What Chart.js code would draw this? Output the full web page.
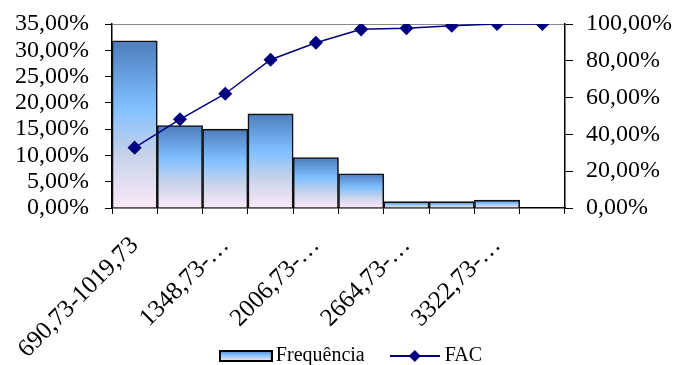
<!DOCTYPE html>
<html>
<head>
<meta charset="utf-8">
<script src="https://cdn.jsdelivr.net/npm/chart.js@4.4.1/dist/chart.umd.min.js"></script>
<style>
  html, body { margin: 0; padding: 0; background: #fff; }
  #wrap { width: 678px; height: 365px; }
</style>
</head>
<body>
<div id="wrap"><canvas id="grafico" width="678" height="365"></canvas></div>
<script>
// classes de valores e frequencias
const categorias = ['690,73-1019,73', '1019,73-1348,73', '1348,73-1677,73', '1677,73-2006,73', '2006,73-2335,73',
  '2335,73-2664,73', '2664,73-2993,73', '2993,73-3322,73', '3322,73-3651,73', '3651,73-3980,73'];
const rotulosX = ['690,73-1019,73', '', '1348,73-…', '', '2006,73-…', '', '2664,73-…', '', '3322,73-…', ''];
const frequencia = [31.8, 15.7, 15.0, 17.9, 9.6, 6.5, 1.2, 1.2, 1.5, 0];
const fac = [32.8, 48.2, 62.1, 80.6, 89.8, 97.1, 97.7, 99.1, 100, 100];

const fonte = "'Liberation Serif', 'Times New Roman', serif";

function pct(v) {
  return Number(v).toFixed(2).replace('.', ',') + '%';
}

// degrade das barras: azul escuro no topo, azul claro, rosado na base
function degrade(c, topo, base) {
  const g = c.createLinearGradient(0, topo, 0, base);
  g.addColorStop(0, '#4d7dbd');
  g.addColorStop(0.4, '#80c0ff');
  g.addColorStop(0.68, '#c6d2ea');
  g.addColorStop(1, '#fbeaf8');
  return g;
}

function corBarra(context) {
  const chart = context.chart;
  if (!chart.chartArea || context.type !== 'data') return '#80c0ff';
  const y = chart.scales.y;
  return degrade(chart.ctx, y.getPixelForValue(context.raw), y.getPixelForValue(0));
}

// simbolos da legenda
const iconeBarra = document.createElement('canvas');
iconeBarra.width = 54; iconeBarra.height = 12;
(function () {
  const c = iconeBarra.getContext('2d');
  c.fillStyle = degrade(c, 0, 12);
  c.fillRect(1, 1, 52, 10);
  c.strokeStyle = '#000';
  c.lineWidth = 2;
  c.strokeRect(1, 1, 52, 10);
})();

const iconeLinha = document.createElement('canvas');
iconeLinha.width = 50; iconeLinha.height = 14;
(function () {
  const c = iconeLinha.getContext('2d');
  c.strokeStyle = '#000080';
  c.lineWidth = 2;
  c.beginPath(); c.moveTo(0, 7); c.lineTo(50, 7); c.stroke();
  c.fillStyle = '#000080';
  c.beginPath(); c.moveTo(25, 1); c.lineTo(31, 7); c.lineTo(25, 13); c.lineTo(19, 7); c.closePath(); c.fill();
})();

// depois do layout: legenda mais abaixo e rotulos do eixo x sem corte
const ajusteLegenda = {
  id: 'ajusteLegenda',
  afterLayout: function (chart) {
    const l = chart.legend;
    l.left += 15; l.right += 15;
    l.top += 11; l.bottom += 11;
    chart.scales.x.bottom = chart.height;
  }
};

const ctx = document.getElementById('grafico');

const grafico = new Chart(ctx, {
  type: 'bar',
  data: {
    labels: categorias,
    datasets: [{
      type: 'bar',
      label: 'Frequência',
      data: frequencia,
      yAxisID: 'y',
      backgroundColor: corBarra,
      borderColor: '#111',
      borderWidth: 1.6,
      barPercentage: 1,
      categoryPercentage: 1,
      order: 2
    }, {
      type: 'line',
      label: 'FAC',
      data: fac,
      yAxisID: 'y1',
      borderColor: '#000080',
      borderWidth: 1.5,
      tension: 0,
      pointStyle: 'rectRot',
      pointRadius: 6,
      pointBackgroundColor: '#000080',
      pointBorderColor: '#000080',
      order: 1
    }]
  },
  plugins: [ajusteLegenda],
  options: {
    responsive: false,
    animation: false,
    layout: { autoPadding: false, padding: { top: 24, left: 0, right: 0, bottom: 0 } },
    plugins: {
      tooltip: { enabled: false },
      legend: {
        position: 'bottom',
        labels: {
          color: '#000',
          font: { family: fonte, size: 20 },
          usePointStyle: true,
          pointStyleWidth: 40,
          padding: 30,
          generateLabels: function () {
            return [
              { text: 'Frequência', pointStyle: iconeBarra, datasetIndex: 0, lineWidth: 0 },
              { text: 'FAC', pointStyle: iconeLinha, datasetIndex: 1, lineWidth: 0 }
            ];
          }
        }
      }
    },
    scales: {
      x: {
        offset: true,
        grid: { display: true, drawOnChartArea: false, offset: true, color: '#000', tickLength: 6 },
        border: { color: '#000', width: 1.5 },
        ticks: {
          autoSkip: false,
          minRotation: 45,
          maxRotation: 45,
          padding: 17,
          color: '#000',
          font: { family: fonte, size: 25 },
          callback: function (v, i) { return rotulosX[i]; }
        },
        afterFit: function (s) { s.height = 97; }
      },
      y: {
        position: 'left',
        min: 0,
        max: 35,
        grid: {
          color: function (c) { return c.tick && c.tick.value === 35 ? '#888' : 'rgba(0,0,0,0)'; },
          tickColor: '#000',
          tickLength: 7
        },
        border: { color: '#000', width: 1.5 },
        ticks: {
          autoSkip: false,
          stepSize: 5,
          padding: 16,
          color: '#000',
          font: { family: fonte, size: 24, lineHeight: 0.6 },
          callback: pct
        },
        afterFit: function (s) { s.width = 112; }
      },
      y1: {
        position: 'right',
        min: 0,
        max: 100,
        grid: { drawOnChartArea: false, color: '#000', tickLength: 8 },
        border: { color: '#000', width: 1.5 },
        ticks: {
          autoSkip: false,
          stepSize: 20,
          padding: 13,
          color: '#000',
          font: { family: fonte, size: 24, lineHeight: 0.6 },
          callback: pct
        },
        afterFit: function (s) { s.width = 113; }
      }
    }
  }
});
</script>
</body>
</html>
